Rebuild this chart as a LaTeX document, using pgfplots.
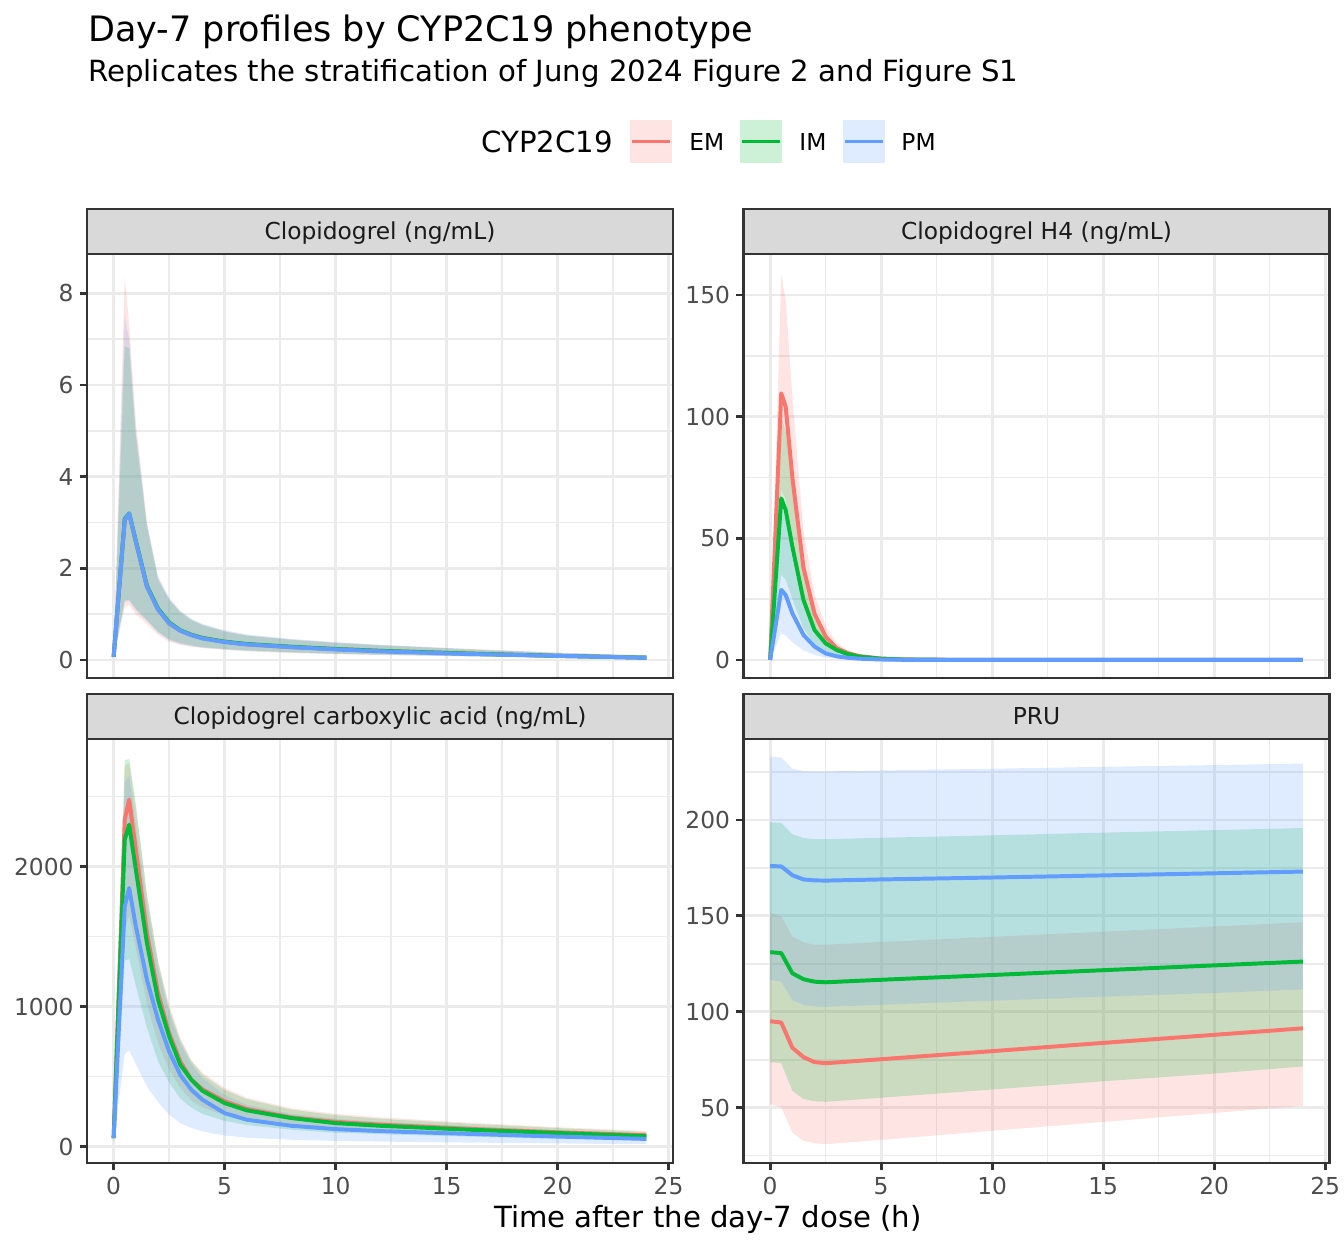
\documentclass[border=0pt]{standalone}
\usepackage{fontspec}
\setmainfont{DejaVu Sans}
\usepackage{pgfplots}
\pgfplotsset{compat=1.18}
\usepackage{pgfplotstable}
\usepgfplotslibrary{fillbetween}

\definecolor{cEM}{HTML}{F8766D}
\definecolor{cIM}{HTML}{00BA38}
\definecolor{cPM}{HTML}{619CFF}
\definecolor{g92}{HTML}{EBEBEB}
\definecolor{g85}{HTML}{D9D9D9}
\definecolor{g20}{HTML}{333333}
\definecolor{g30}{HTML}{4D4D4D}
\definecolor{g10}{HTML}{1A1A1A}

\pgfplotstableread{
t em emlo emhi im imlo imhi pm pmlo pmhi
0 0.07 0.03 0.14 0.07 0.04 0.12 0.07 0.04 0.13
0.5 3.05 1.15 8.35 3.08 1.30 6.85 3.06 1.27 7.50
0.7 3.18 1.20 7.30 3.20 1.31 6.80 3.20 1.29 7.00
1 2.58 1.00 5.20 2.60 1.12 4.90 2.58 1.08 5.00
1.5 1.60 0.78 3.00 1.62 0.87 2.92 1.60 0.85 2.98
2 1.10 0.55 1.80 1.12 0.62 1.75 1.10 0.60 1.82
2.5 0.80 0.40 1.33 0.82 0.45 1.31 0.80 0.43 1.36
3 0.64 0.33 1.05 0.65 0.37 1.04 0.64 0.35 1.08
3.5 0.55 0.29 0.88 0.55 0.32 0.87 0.54 0.30 0.90
4 0.48 0.26 0.77 0.48 0.28 0.76 0.47 0.27 0.79
5 0.40 0.22 0.63 0.40 0.24 0.62 0.39 0.23 0.65
6 0.34 0.19 0.54 0.35 0.21 0.53 0.34 0.20 0.56
8 0.28 0.15 0.45 0.29 0.17 0.44 0.28 0.16 0.46
10 0.24 0.13 0.38 0.24 0.14 0.37 0.23 0.13 0.39
12 0.20 0.11 0.33 0.20 0.12 0.32 0.19 0.11 0.33
16 0.14 0.08 0.24 0.14 0.08 0.23 0.13 0.08 0.24
20 0.09 0.05 0.16 0.09 0.05 0.15 0.09 0.05 0.16
24 0.05 0.03 0.10 0.05 0.03 0.09 0.05 0.03 0.10
}\tl

\pgfplotstableread{
t em emlo emhi im imlo imhi pm pmlo pmhi
0 0 0 0 0 0 0 0 0 0
0.5 109.6 70 158 66.4 35 100 28.8 11 64
0.7 104 66 148 61.6 33 94 26.7 10 58
1 75 48 108 46.6 25 70 19.2 7.3 42
1.5 38 24 53 24.7 13 37 10.3 3.9 22
2 19 12 27 12.3 6.5 18.5 5.5 2.1 12
2.5 9.6 6.1 14 6.8 3.6 10 2.7 1.0 6
3 4.8 3.0 7 4.1 2.2 6 1.5 0.6 3.3
3.5 2.8 1.8 4.1 2.4 1.3 3.6 0.9 0.35 2
4 1.6 1.0 2.4 1.4 0.75 2.1 0.55 0.2 1.2
5 0.6 0.38 0.9 0.5 0.27 0.75 0.2 0.08 0.45
6 0.25 0.16 0.37 0.2 0.11 0.3 0.08 0.03 0.18
8 0.1 0.06 0.15 0.08 0.04 0.12 0.03 0.01 0.07
12 0.05 0.03 0.08 0.04 0.02 0.06 0.02 0.01 0.04
24 0.02 0.01 0.03 0.02 0.01 0.03 0.01 0 0.02
}\tr

\pgfplotstableread{
t em emlo emhi im imlo imhi pm pmlo pmhi
0 62 40 95 62 40 95 62 30 95
0.5 2336 1550 2720 2193 1330 2760 1716 660 2600
0.7 2479 1650 2740 2300 1340 2770 1848 690 2650
1 2121 1420 2420 1979 1150 2450 1574 590 2300
1.5 1526 1020 1800 1455 850 1800 1193 430 1720
2 1098 740 1330 1050 610 1320 907 320 1280
2.5 812 550 1010 788 460 990 681 230 960
3 610 420 780 586 345 760 514 170 740
3.5 480 330 620 479 280 610 407 135 590
4 410 280 530 400 235 515 336 110 490
5 325 225 420 312 185 405 240 80 370
6 270 190 350 260 155 340 193 65 300
8 210 150 275 205 122 265 150 50 235
10 178 125 235 169 100 225 126 42 200
12 158 110 210 150 90 200 112 37 178
16 128 90 172 122 73 165 92 30 148
20 103 72 140 98 58 134 73 24 120
24 82 57 112 76 45 106 56 18 95
}\bl

\pgfplotstableread{
t em emlo emhi im imlo imhi pm pmlo pmhi
0 95.1 52 151.6 131.1 73.8 198.8 176 116.6 232.9
0.5 94.4 50.2 149.9 130.6 73.2 198.5 175.8 115.7 232.6
1 81.3 37.1 139.3 120.1 58.9 192.5 171.2 106.1 226.7
1.5 76.4 32.7 136.2 117 54.6 190.6 169 103.5 225.5
2 73.8 31.5 135 115.7 53.3 190 168.5 102.8 225.3
2.5 73.2 31 135 115.4 53.1 190 168.4 102.6 225.3
5 75.3 33.3 136.4 116.7 55.2 190.7 169 103.7 225.8
10 79.5 38 139.1 119.2 59.5 192 170 105.8 226.7
15 83.8 42.6 141.8 121.7 63.8 193.4 171.1 107.9 227.7
20 88 47.3 144.5 124.2 67.8 194.7 172.2 109.8 228.6
24 91.4 51 146.7 126.2 71.5 195.8 173.1 111.7 229.4
}\br

\pgfplotsset{
  panel/.style={
    scale only axis, width=281.28pt, height=203.52pt,
    anchor=south west,
    xmin=-1.2, xmax=25.2,
    xtick={0,5,...,25}, minor xtick={2.5,7.5,12.5,17.5,22.5},
    grid=both,
    major grid style={draw=g92, line width=1.36pt},
    minor grid style={draw=g92, line width=0.68pt},
    axis line style={draw=g20, line width=1.36pt},
    tick style={draw=g20, line width=1.36pt},
    major tick length=3.5pt,
    minor tick length=0pt,
    tick align=outside,
    xtick pos=bottom, ytick pos=left,
    scaled ticks=false,
    /pgf/number format/1000 sep={},
    /pgf/number format/assume math mode=true,
    tick label style={font=\fontsize{11.2}{13}\selectfont, text=g30},
    xticklabel style={inner sep=0pt, yshift=-3.3pt},
    yticklabel style={inner sep=0pt, xshift=-2.8pt},
  },
  toppanel/.style={panel, xmajorticks=false, xticklabels={}},
  rib/.style={draw=none, fill opacity=0.2, forget plot},
  hid/.style={draw=none, forget plot},
  med/.style={line width=1.9pt, line join=round},
}

\newcommand{\drawpanel}[1]{%
  \addplot[hid, name path=emhi] table[x=t,y=emhi]{#1};
  \addplot[hid, name path=emlo] table[x=t,y=emlo]{#1};
  \addplot[hid, name path=imhi] table[x=t,y=imhi]{#1};
  \addplot[hid, name path=imlo] table[x=t,y=imlo]{#1};
  \addplot[hid, name path=pmhi] table[x=t,y=pmhi]{#1};
  \addplot[hid, name path=pmlo] table[x=t,y=pmlo]{#1};
  \addplot[rib, fill=cEM] fill between[of=emhi and emlo];
  \addplot[rib, fill=cIM] fill between[of=imhi and imlo];
  \addplot[rib, fill=cPM] fill between[of=pmhi and pmlo];
  \addplot[med, cEM] table[x=t,y=em]{#1};
  \addplot[med, cIM] table[x=t,y=im]{#1};
  \addplot[med, cPM] table[x=t,y=pm]{#1};
}

\begin{document}
\begin{tikzpicture}[x=0.48pt,y=0.48pt]
\path (0,0) rectangle (1344,1248);

% titles
\node[anchor=base west, inner sep=0pt, font=\fontsize{16.8}{19}\selectfont] at (88,1248-41.5) {Day-7 profiles by CYP2C19 phenotype};
\node[anchor=base west, inner sep=0pt, font=\fontsize{14}{16}\selectfont] at (88,1248-82) {Replicates the stratification of Jung 2024 Figure 2 and Figure S1};

% legend
\node[anchor=base west, inner sep=0pt, font=\fontsize{14}{16}\selectfont] at (481,1248-152.3) {CYP2C19};
\fill[cEM!20] (630,1248-163) rectangle (672,1248-120);
\draw[cEM, line width=1.9pt] (632,1248-141.5) -- (670,1248-141.5);
\node[anchor=base west, inner sep=0pt, font=\fontsize{11.2}{13}\selectfont] at (689,1248-150.3) {EM};
\fill[cIM!20] (740,1248-163) rectangle (782,1248-120);
\draw[cIM, line width=1.9pt] (742,1248-141.5) -- (780,1248-141.5);
\node[anchor=base west, inner sep=0pt, font=\fontsize{11.2}{13}\selectfont] at (799,1248-150.3) {IM};
\fill[cPM!20] (843,1248-163) rectangle (885,1248-120);
\draw[cPM, line width=1.9pt] (845,1248-141.5) -- (883,1248-141.5);
\node[anchor=base west, inner sep=0pt, font=\fontsize{11.2}{13}\selectfont] at (901,1248-150.3) {PM};

% panels (positions in pt: px*0.48)
\begin{axis}[toppanel, at={(41.76pt,273.6pt)}, ymin=-0.393, ymax=8.859,
  ytick={0,2,4,6,8}, minor ytick={1,3,5,7}]
\drawpanel{\tl}
\end{axis}
\begin{axis}[toppanel, at={(356.88pt,273.6pt)}, ymin=-7.4, ymax=166.85,
  ytick={0,50,100,150}, minor ytick={25,75,125}]
\drawpanel{\tr}
\end{axis}
\begin{axis}[panel, at={(41.76pt,40.8pt)}, ymin=-116, ymax=2912,
  ytick={0,1000,2000}, minor ytick={500,1500,2500}]
\drawpanel{\bl}
\end{axis}
\begin{axis}[panel, at={(356.88pt,40.8pt)}, ymin=21.2, ymax=242.2,
  ytick={50,100,150,200}, minor ytick={25,75,125,175,225}]
\drawpanel{\br}
\end{axis}

% strips
\draw[fill=g85, draw=g20, line width=1.36pt] (87,1248-254) rectangle (673,1248-209);
\draw[fill=g85, draw=g20, line width=1.36pt] (743.5,1248-254) rectangle (1329.5,1248-209);
\draw[fill=g85, draw=g20, line width=1.36pt] (87,1248-739) rectangle (673,1248-694);
\draw[fill=g85, draw=g20, line width=1.36pt] (743.5,1248-739) rectangle (1329.5,1248-694);
\begin{scope}[every node/.style={anchor=base, inner sep=0pt, font=\fontsize{11.2}{13}\selectfont, text=g10}]
\node at (380,1248-239.5) {Clopidogrel (ng/mL)};
\node at (1036.5,1248-239.5) {Clopidogrel H4 (ng/mL)};
\node at (380,1248-724.5) {Clopidogrel carboxylic acid (ng/mL)};
\node at (1036.5,1248-724.5) {PRU};
\end{scope}

% x axis title
\node[anchor=base, inner sep=0pt, font=\fontsize{14}{16}\selectfont] at (708,1248-1227) {Time after the day-7 dose (h)};
\end{tikzpicture}
\end{document}
